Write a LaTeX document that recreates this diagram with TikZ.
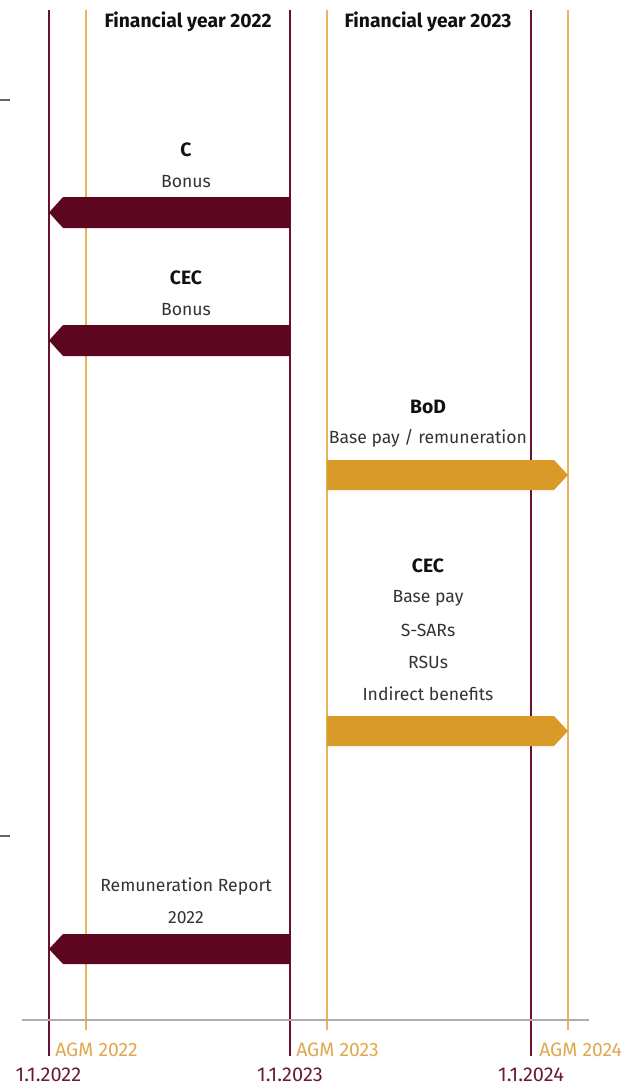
\documentclass[tikz,border=0pt]{standalone}
\usepackage{fontspec}
\setmainfont{Fira Sans}
\usepackage{tikz}
\usetikzlibrary{positioning}
\definecolor{wine}{HTML}{5C0620}
\definecolor{wineline}{HTML}{6A1030}
\definecolor{winetext}{HTML}{6A1B33}
\definecolor{ochre}{HTML}{DA9A28}
\definecolor{ochreline}{HTML}{E8B35A}
\definecolor{ochretext}{HTML}{E0A84E}
\definecolor{axisgrey}{HTML}{B3ABA5}
\definecolor{inkdark}{HTML}{111111}
\definecolor{inksoft}{HTML}{333333}
\tikzset{
  yearline/.style = {draw=wineline, line width=1.5},
  agmline/.style  = {draw=ochreline, line width=1.5},
  headtext/.style = {font=\fontsize{14.5}{17}\selectfont\bfseries, text=inkdark, inner sep=0pt},
  grouptext/.style= {font=\fontsize{14.5}{17}\selectfont\bfseries, text=inkdark, inner sep=0pt},
  itemtext/.style = {font=\fontsize{13.2}{16}\selectfont, text=inksoft, inner sep=0pt},
  agmtext/.style  = {font=\fontsize{14.5}{17}\selectfont, text=ochretext, inner sep=0pt, anchor=west},
  datetext/.style = {font=\fontsize{15}{18}\selectfont, text=winetext, inner sep=0pt},
  backbar/.style  = {fill=wine},
  forebar/.style  = {fill=ochre},
}

\begin{document}
\begin{tikzpicture}[x=0.75pt,y=-0.75pt]
  \useasboundingbox (0,0) rectangle (635,1085);
  % grid of year ends and AGMs
  \draw[yearline] (48.5,10) coordinate (y22) -- (48.5,1056);
  \draw[yearline] (290,10) coordinate (y23) -- (290,1056);
  \draw[yearline] (531,10) coordinate (y24) -- (531,1056);
  \draw[agmline] (86,10) -- (86,1030);
  \draw[agmline] (327,10) -- (327,1030);
  \draw[agmline] (568,10) -- (568,1030);
  \draw[axisgrey, line width=1] (22,1020) -- (589,1020);
  \draw[gray!80!black, line width=1] (0,100) -- (10,100);
  \draw[gray!80!black, line width=1] (0,836) -- (10,836);

  \node[headtext] (fy22) at (188,22) {Financial year 2022};
  \node[headtext] (fy23) at (428,22) {Financial year 2023};

  % past year (backward arrows)
  \node[grouptext] (c) at (186,150) {C};
  \node[itemtext] (cbonus) at (186,182) {Bonus};
  \fill[backbar] (290,197) -- (63,197) -- (49,212.5) -- (63,228) -- (290,228) -- cycle;

  \node[grouptext] (cec1) at (186,278) {CEC};
  \node[itemtext] (cecbonus) at (186,310) {Bonus};
  \fill[backbar] (290,325) -- (63,325) -- (49,340.5) -- (63,356) -- (290,356) -- cycle;

  \node[itemtext] (rr) at (186,886) {Remuneration Report};
  \node[itemtext] (rryear) at (186,918) {2022};
  \fill[backbar] (290,934) -- (63,934) -- (49,949) -- (63,964) -- (290,964) -- cycle;

  % coming year (forward arrows)
  \node[grouptext] (bod) at (428,407) {BoD};
  \node[itemtext] (bodpay) at (428,438) {Base pay / remuneration};
  \fill[forebar] (327,460) -- (554,460) -- (568,475) -- (554,490) -- (327,490) -- cycle;

  \node[grouptext] (cec2) at (428,566) {CEC};
  \node[itemtext] (cecpay) at (428,598) {Base pay};
  \node[itemtext] (ssars) at (428,630) {S-SARs};
  \node[itemtext] (rsus) at (428,662) {RSUs};
  \node[itemtext] (indir) at (428,694) {Indirect benefits};
  \fill[forebar] (327,716) -- (554,716) -- (568,731) -- (554,746) -- (327,746) -- cycle;

  % axis labels
  \node[agmtext] (agm22) at (55,1050) {AGM 2022};
  \node[agmtext] (agm23) at (296,1050) {AGM 2023};
  \node[agmtext] (agm24) at (539,1050) {AGM 2024};
  \node[datetext] (d22) at (48.5,1075) {1.1.2022};
  \node[datetext] (d23) at (290,1075) {1.1.2023};
  \node[datetext] (d24) at (531,1075) {1.1.2024};
\end{tikzpicture}
\end{document}
